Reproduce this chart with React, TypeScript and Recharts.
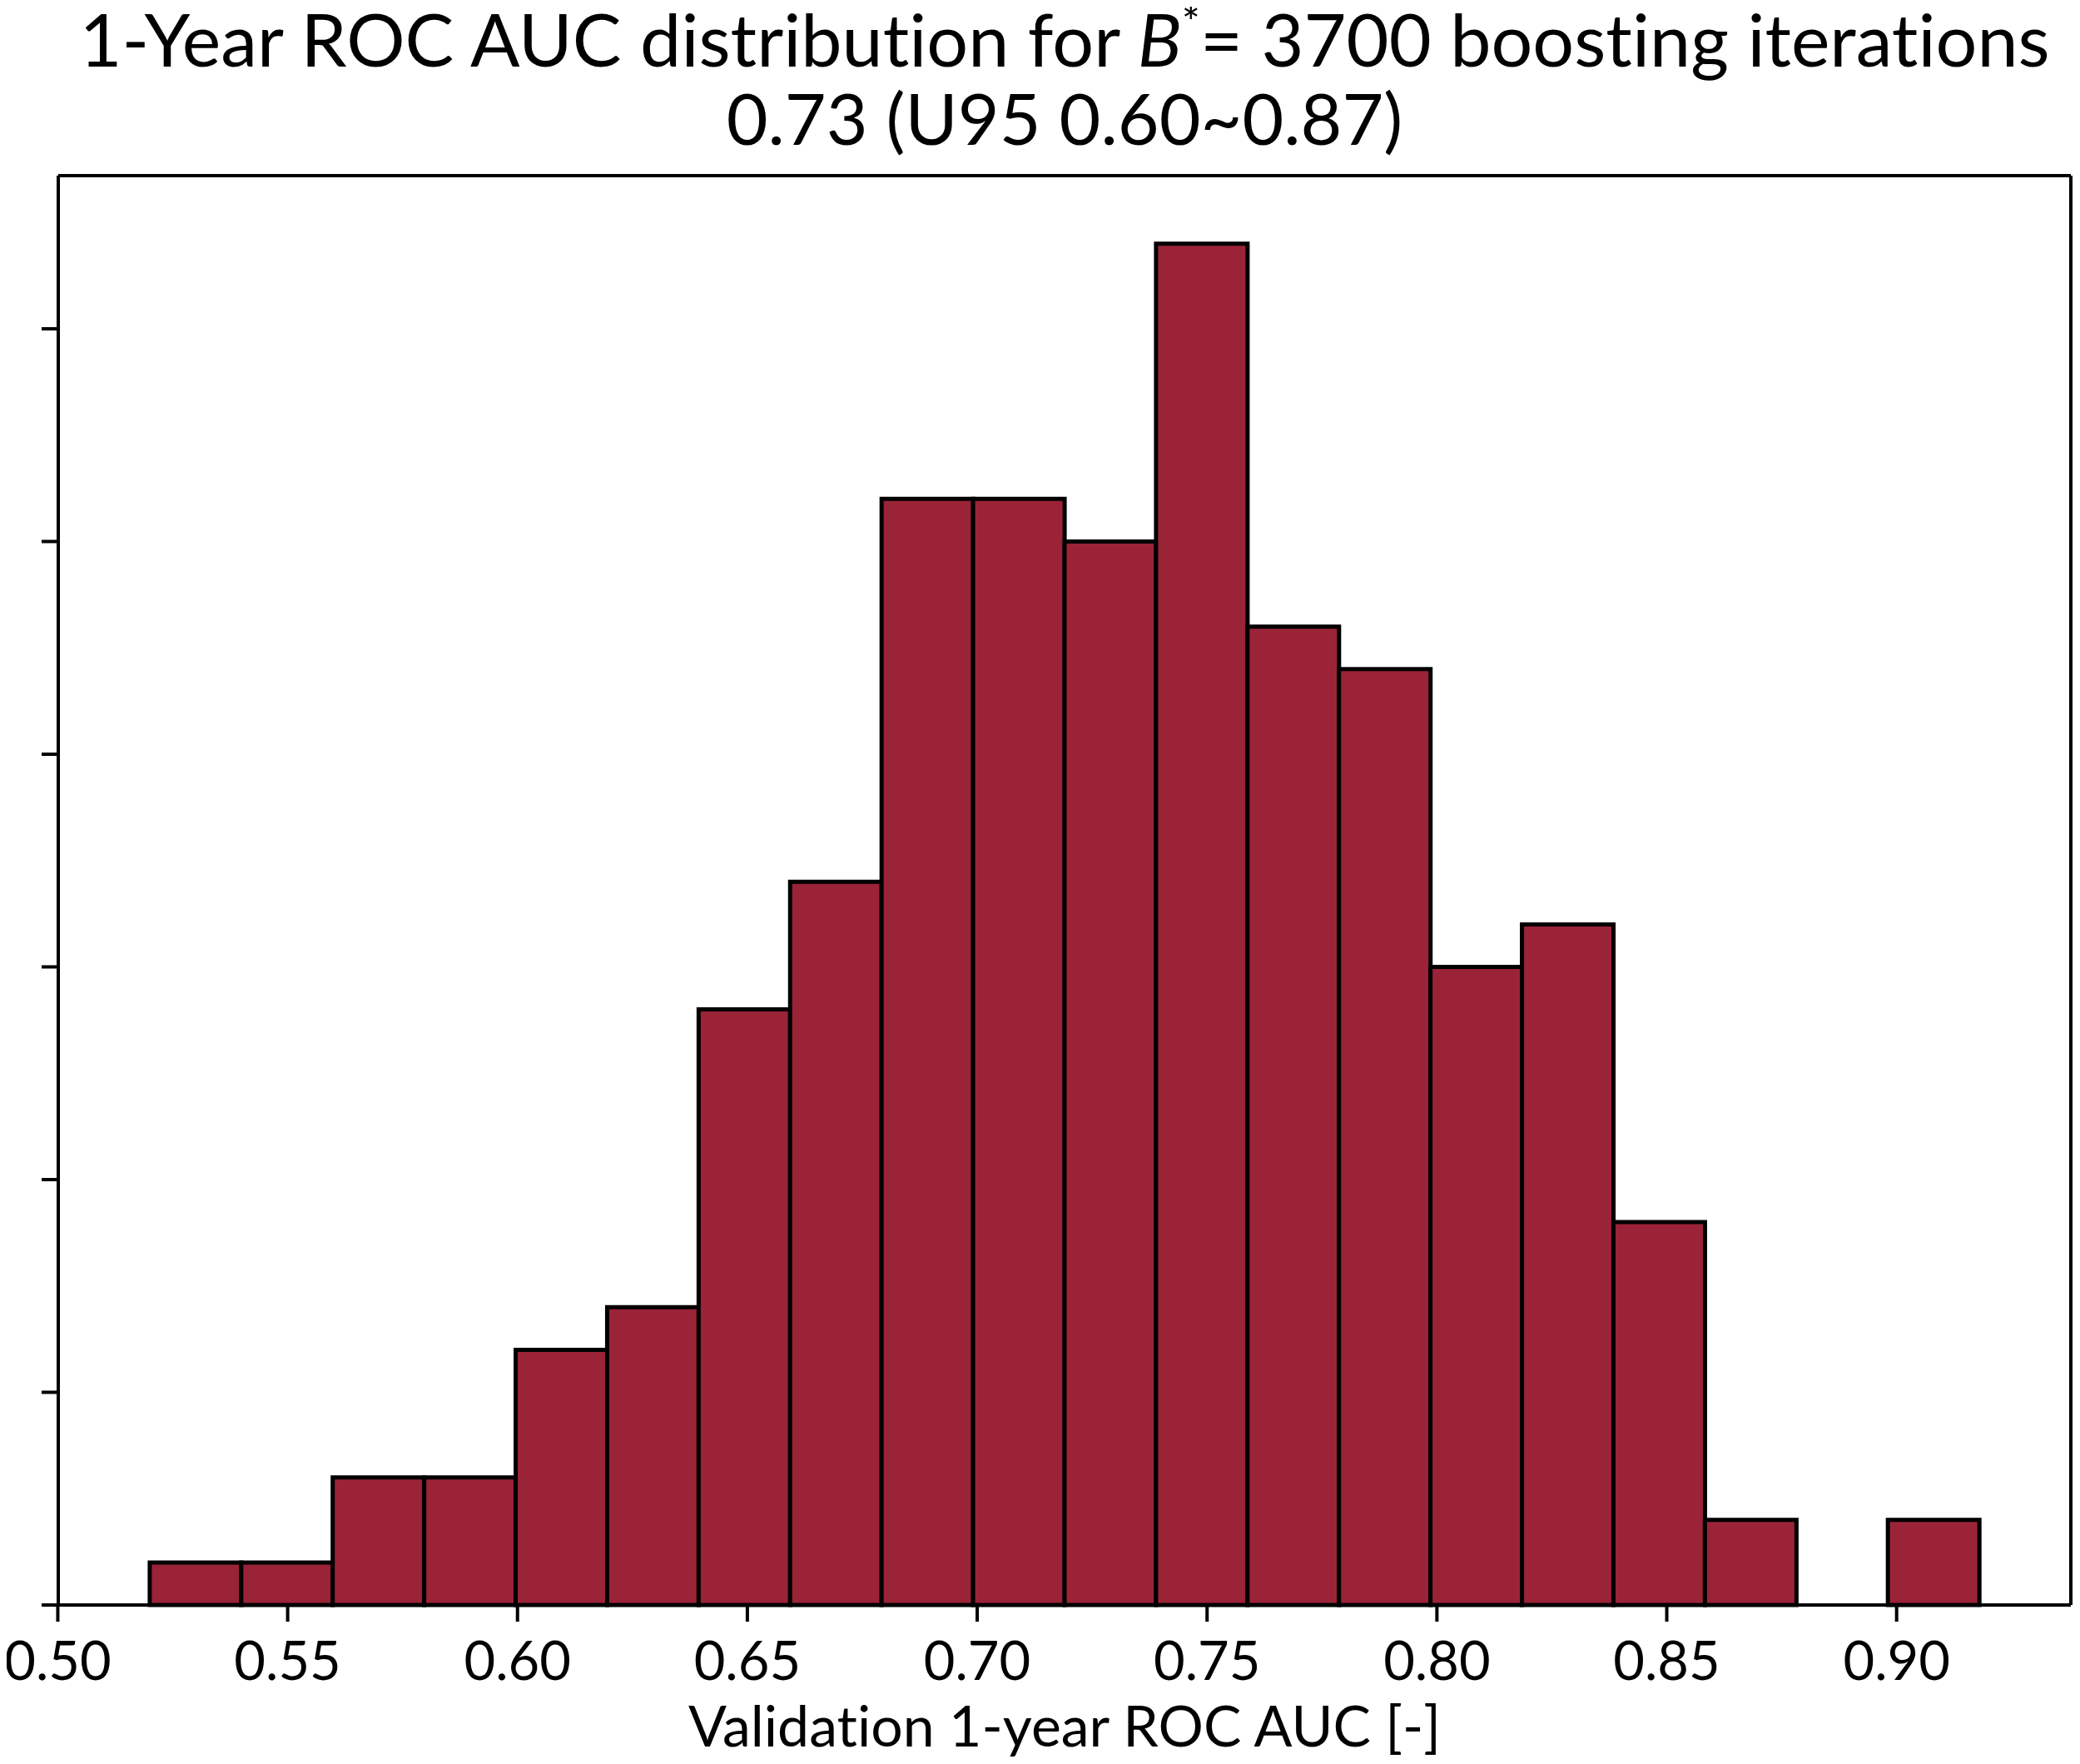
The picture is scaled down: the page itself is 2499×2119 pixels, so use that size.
import React from 'react';
import { BarChart, Bar, XAxis, YAxis, ReferenceLine } from 'recharts';

// histogram bins: 20 bins from 0.520 to 0.918 (width 0.0199)
const binStart = 0.52;
const binWidth = 0.0199;
const binCounts = [1, 1, 3, 3, 6, 7, 14, 17, 26, 26, 25, 32, 23, 22, 15, 16, 9, 2, 0, 2];

const xTicks = [0.5, 0.55, 0.6, 0.65, 0.7, 0.75, 0.8, 0.85, 0.9];
const yTicks = [0, 5, 10, 15, 20, 25, 30];
const xDomain = [0.5001, 0.9379];
const yDomain = [0, 33.6];

const titleLine1 = ['1-Year ROC AUC distribution for ', 'B', '*', '= 3700 boosting iterations'];
const titleLine2 = '0.73 (U95 0.60~0.87)';
const xLabel = 'Validation 1-year ROC AUC [-]';

const data = binCounts.map((count, i) => ({
  x: binStart + binWidth * (i + 0.5),
  count,
}));

const W = 2491;
const H = 2111;
const FONT = 'Lato, "Open Sans", sans-serif';
const BAR_FILL = '#9b2338';
const CX = 1271;
const noLig = { fontVariantLigatures: 'none' as const, fontFeatureSettings: '"liga" 0, "clig" 0' };

export default function App() {
  return (
    <div style={{ position: 'relative', width: W, height: H, background: '#fff' }}>
      <BarChart
        width={W}
        height={H}
        data={data}
        margin={{ top: 203, right: 11, bottom: 0, left: 22 }}
        barCategoryGap={0}
        barGap={0}
      >
        <XAxis
          dataKey="x"
          type="number"
          domain={xDomain}
          ticks={xTicks}
          allowDataOverflow
          height={191}
          tickSize={20}
          tickMargin={24}
          tickFormatter={(v: number) => v.toFixed(2)}
          axisLine={{ stroke: '#000', strokeWidth: 4 }}
          tickLine={{ stroke: '#000', strokeWidth: 4 }}
          tick={{ fontSize: 65, fontFamily: FONT, fill: '#000' }}
        />
        {/* y ticks without labels, like the reference */}
        <YAxis
          type="number"
          domain={yDomain}
          ticks={yTicks}
          width={40}
          tickSize={20}
          tick={() => <g />}
          axisLine={{ stroke: '#000', strokeWidth: 4 }}
          tickLine={{ stroke: '#000', strokeWidth: 4 }}
        />
        {/* top and right spines */}
        <ReferenceLine y={yDomain[1]} stroke="#000" strokeWidth={4} />
        <ReferenceLine x={xDomain[1]} stroke="#000" strokeWidth={4} />
        <Bar
          dataKey="count"
          fill={BAR_FILL}
          stroke="#000"
          strokeWidth={5}
          isAnimationActive={false}
        />
      </BarChart>
      <svg
        width={W}
        height={H}
        style={{ position: 'absolute', left: 0, top: 0, pointerEvents: 'none', ...noLig }}
      >
        <text x={CX} y={72} textAnchor="middle" fontFamily={FONT} fontSize={88} fill="#000">
          <tspan>{titleLine1[0]}</tspan>
          <tspan fontStyle="italic">{titleLine1[1]}</tspan>
          <tspan dy={-34} fontSize={52}>{titleLine1[2]}</tspan>
          <tspan dy={34}>{titleLine1[3]}</tspan>
        </text>
        <text x={CX} y={166} textAnchor="middle" fontFamily={FONT} fontSize={86} fill="#000">
          {titleLine2}
        </text>
        <text x={CX} y={2090} textAnchor="middle" fontFamily={FONT} fontSize={68} fill="#000">
          {xLabel}
        </text>
      </svg>
    </div>
  );
}
